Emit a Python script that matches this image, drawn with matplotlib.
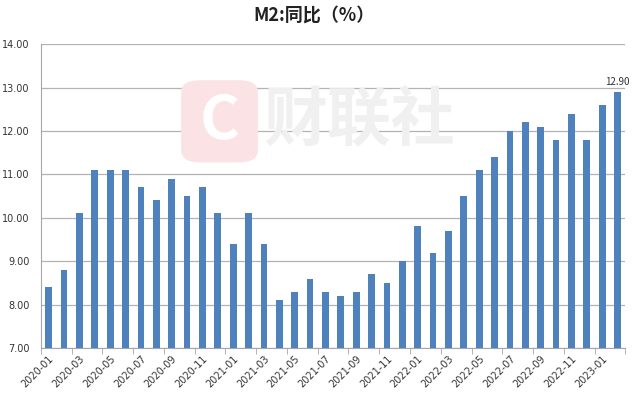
import numpy as np
import matplotlib.pyplot as plt
from matplotlib.patches import FancyBboxPatch

plt.rcParams['font.family'] = ['Noto Sans CJK SC', 'DejaVu Sans']

months = ['2020-01', '2020-02', '2020-03', '2020-04', '2020-05', '2020-06',
          '2020-07', '2020-08', '2020-09', '2020-10', '2020-11', '2020-12',
          '2021-01', '2021-02', '2021-03', '2021-04', '2021-05', '2021-06',
          '2021-07', '2021-08', '2021-09', '2021-10', '2021-11', '2021-12',
          '2022-01', '2022-02', '2022-03', '2022-04', '2022-05', '2022-06',
          '2022-07', '2022-08', '2022-09', '2022-10', '2022-11', '2022-12',
          '2023-01', '2023-02']
m2_yoy = [8.4, 8.8, 10.1, 11.1, 11.1, 11.1, 10.7, 10.4, 10.9, 10.5, 10.7, 10.1,
          9.4, 10.1, 9.4, 8.1, 8.3, 8.6, 8.3, 8.2, 8.3, 8.7, 8.5, 9.0,
          9.8, 9.2, 9.7, 10.5, 11.1, 11.4, 12.0, 12.2, 12.1, 11.8, 12.4, 11.8,
          12.6, 12.9]

fig = plt.figure(figsize=(6.4, 4.01), dpi=100)

# watermark (logo + name)
fig.patches.append(FancyBboxPatch((0.283, 0.595), 0.12, 0.205,
                                  boxstyle='round,pad=0,rounding_size=0.03',
                                  transform=fig.transFigure, facecolor='#fbe3e5',
                                  edgecolor='none', zorder=0))
fig.text(0.343, 0.697, 'C', fontsize=44, fontweight='bold', color='white',
         ha='center', va='center', zorder=1)
fig.text(0.412, 0.697, '财联社', fontsize=46, fontweight='bold', color='#f0f0f0',
         ha='left', va='center', zorder=1)

ax = fig.add_axes([0.064, 0.132, 0.913, 0.758])
ax.patch.set_alpha(0)

x = np.arange(len(months))
ax.bar(x, m2_yoy, width=0.44, color='#4f81bd', zorder=3)
ax.text(x[-1], m2_yoy[-1] + 0.12, '%.2f' % m2_yoy[-1], ha='center',
        va='bottom', fontsize=7, color='#333333')

ax.set_ylim(7, 14)
ax.set_xlim(-0.5, len(months) - 0.5)
ax.set_yticks(np.arange(7, 15, 1))
ax.set_yticklabels(['%.2f' % v for v in np.arange(7, 15, 1)], fontsize=7,
                   family='DejaVu Sans')
ax.yaxis.grid(True, color='#b3b3b3', linewidth=0.9, zorder=0)
ax.tick_params(axis='y', length=0, pad=8, colors='#333333')

ax.set_xticks(x[::2])
ax.set_xticklabels(months[::2], rotation=45, ha='right', rotation_mode='anchor',
                   fontsize=7, family='DejaVu Sans', color='#333333')
ax.tick_params(axis='x', length=0, pad=4)
ax.set_xticks(np.arange(-0.5, len(months), 2), minor=True)
ax.tick_params(axis='x', which='minor', length=4, color='#a6a6a6')

for s in ['top', 'right']:
    ax.spines[s].set_visible(False)
ax.spines['left'].set_color('#a6a6a6')
ax.spines['bottom'].set_color('#a6a6a6')

fig.suptitle('M2:同比（%）', x=0.49, y=0.985, fontsize=13, fontweight='bold',
             color='#222222')

plt.savefig('out.png', dpi=100)
